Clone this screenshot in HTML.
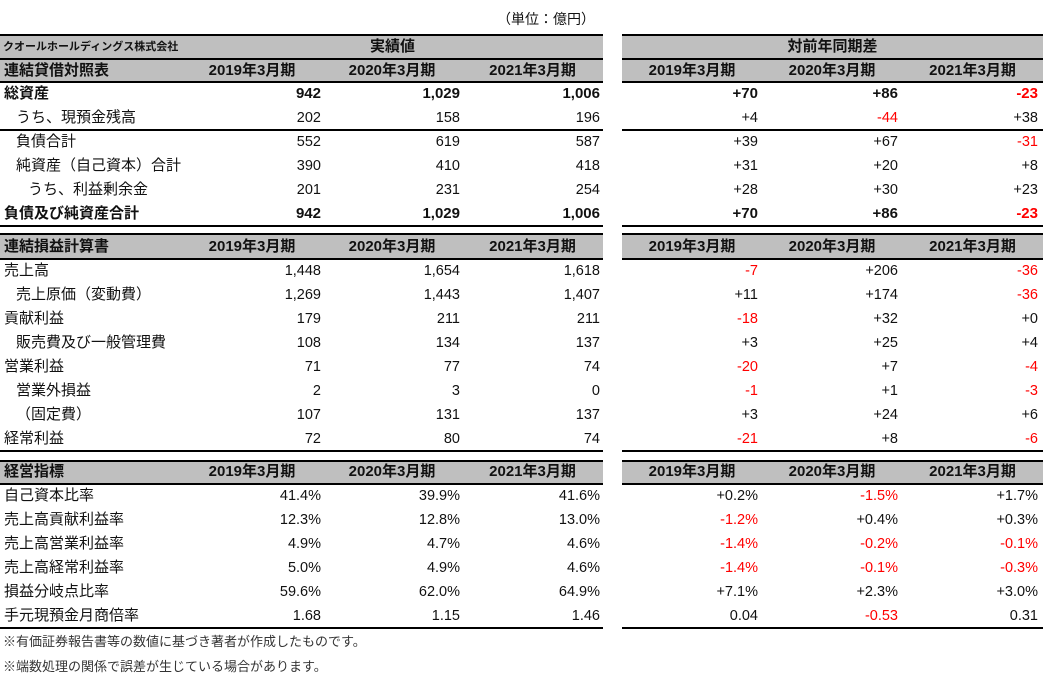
<!DOCTYPE html>
<html lang="ja">
<head>
<meta charset="utf-8">
<style>
  html,body{margin:0;padding:0;background:#fff;}
  body{width:1043px;height:681px;position:relative;overflow:hidden;
       font-family:"Liberation Sans","Noto Sans CJK JP",sans-serif;color:#111;font-size:14.5px;}
  .g{position:absolute;background:#bfbfbf;}
  .ln{position:absolute;height:2px;background:#000;}
  .L,.R{position:absolute;height:24px;line-height:24px;}
  .L{left:0;width:603px;}
  .R{left:622px;width:421px;}
  .L span,.R span{position:absolute;white-space:nowrap;top:0;}
  .L .a{right:282px}.L .b{right:143px}.L .c{right:3px}
  .R .a{right:285px}.R .b{right:145px}.R .c{right:5px}
  .l{left:4px;font-size:15px}.i1{left:16px;font-size:15px}.i2{left:28px;font-size:15px}
  .bd{font-weight:bold;}
  .red{color:#f00;}
  .hd{font-weight:bold;font-size:15px;}
  .L .h1{left:182px;width:140px;text-align:center}
  .L .h2{left:322px;width:140px;text-align:center}
  .L .h3{left:462px;width:141px;text-align:center}
  .R .h1{left:0;width:140px;text-align:center}
  .R .h2{left:140px;width:140px;text-align:center}
  .R .h3{left:280px;width:141px;text-align:center}
  .t{position:absolute;white-space:nowrap;}
</style>
</head>
<body>
<div class="t" style="right:448px;top:9px;font-size:14px;line-height:20px;">（単位：億円）</div>

<!-- gray bands -->
<div class="g" style="left:0;top:34px;width:603px;height:48px;"></div>
<div class="g" style="left:622px;top:34px;width:421px;height:48px;"></div>
<div class="g" style="left:0;top:234px;width:603px;height:25px;"></div>
<div class="g" style="left:622px;top:234px;width:421px;height:25px;"></div>
<div class="g" style="left:0;top:460px;width:603px;height:24px;"></div>
<div class="g" style="left:622px;top:460px;width:421px;height:24px;"></div>

<!-- lines -->
<div class="ln" style="left:0;width:603px;top:34px;"></div>
<div class="ln" style="left:622px;width:421px;top:34px;"></div>
<div class="ln" style="left:0;width:603px;top:58px;"></div>
<div class="ln" style="left:622px;width:421px;top:58px;"></div>
<div class="ln" style="left:0;width:603px;top:81px;"></div>
<div class="ln" style="left:622px;width:421px;top:81px;"></div>
<div class="ln" style="left:0;width:603px;top:129px;"></div>
<div class="ln" style="left:622px;width:421px;top:129px;"></div>
<div class="ln" style="left:0;width:603px;top:225px;"></div>
<div class="ln" style="left:622px;width:421px;top:225px;"></div>
<div class="ln" style="left:0;width:603px;top:233px;"></div>
<div class="ln" style="left:622px;width:421px;top:233px;"></div>
<div class="ln" style="left:0;width:603px;top:258px;"></div>
<div class="ln" style="left:622px;width:421px;top:258px;"></div>
<div class="ln" style="left:0;width:603px;top:450px;"></div>
<div class="ln" style="left:622px;width:421px;top:450px;"></div>
<div class="ln" style="left:0;width:603px;top:460px;"></div>
<div class="ln" style="left:622px;width:421px;top:460px;"></div>
<div class="ln" style="left:0;width:603px;top:483px;"></div>
<div class="ln" style="left:622px;width:421px;top:483px;"></div>
<div class="ln" style="left:0;width:603px;top:627px;"></div>
<div class="ln" style="left:622px;width:421px;top:627px;"></div>

<!-- header row 1 -->
<div class="L" style="top:35px;"><span style="left:3px;font-size:11px;font-weight:bold;">クオールホールディングス株式会社</span><span class="hd" style="left:182px;width:421px;text-align:center;">実績値</span></div>
<div class="R" style="top:35px;"><span class="hd" style="left:0;width:421px;text-align:center;">対前年同期差</span></div>

<!-- header row 2 -->
<div class="L hd" style="top:59px;"><span class="l">連結貸借対照表</span><span class="h1">2019年3月期</span><span class="h2">2020年3月期</span><span class="h3">2021年3月期</span></div>
<div class="R hd" style="top:59px;"><span class="h1">2019年3月期</span><span class="h2">2020年3月期</span><span class="h3">2021年3月期</span></div>

<!-- BS rows -->
<div class="L bd" style="top:82px;font-size:15px;"><span class="l">総資産</span><span class="a">942</span><span class="b">1,029</span><span class="c">1,006</span></div>
<div class="R bd" style="top:82px;font-size:15px;"><span class="a">+70</span><span class="b">+86</span><span class="c red">-23</span></div>

<div class="L" style="top:106px;"><span class="i1">うち、現預金残高</span><span class="a">202</span><span class="b">158</span><span class="c">196</span></div>
<div class="R" style="top:106px;"><span class="a">+4</span><span class="b red">-44</span><span class="c">+38</span></div>

<div class="L" style="top:130px;"><span class="i1">負債合計</span><span class="a">552</span><span class="b">619</span><span class="c">587</span></div>
<div class="R" style="top:130px;"><span class="a">+39</span><span class="b">+67</span><span class="c red">-31</span></div>

<div class="L" style="top:154px;"><span class="i1">純資産（自己資本）合計</span><span class="a">390</span><span class="b">410</span><span class="c">418</span></div>
<div class="R" style="top:154px;"><span class="a">+31</span><span class="b">+20</span><span class="c">+8</span></div>

<div class="L" style="top:178px;"><span class="i2">うち、利益剰余金</span><span class="a">201</span><span class="b">231</span><span class="c">254</span></div>
<div class="R" style="top:178px;"><span class="a">+28</span><span class="b">+30</span><span class="c">+23</span></div>

<div class="L bd" style="top:202px;font-size:15px;"><span class="l">負債及び純資産合計</span><span class="a">942</span><span class="b">1,029</span><span class="c">1,006</span></div>
<div class="R bd" style="top:202px;font-size:15px;"><span class="a">+70</span><span class="b">+86</span><span class="c red">-23</span></div>

<!-- PL header -->
<div class="L hd" style="top:235px;"><span class="l">連結損益計算書</span><span class="h1">2019年3月期</span><span class="h2">2020年3月期</span><span class="h3">2021年3月期</span></div>
<div class="R hd" style="top:235px;"><span class="h1">2019年3月期</span><span class="h2">2020年3月期</span><span class="h3">2021年3月期</span></div>

<!-- PL rows -->
<div class="L" style="top:259px;"><span class="l">売上高</span><span class="a">1,448</span><span class="b">1,654</span><span class="c">1,618</span></div>
<div class="R" style="top:259px;"><span class="a red">-7</span><span class="b">+206</span><span class="c red">-36</span></div>

<div class="L" style="top:283px;"><span class="i1">売上原価（変動費）</span><span class="a">1,269</span><span class="b">1,443</span><span class="c">1,407</span></div>
<div class="R" style="top:283px;"><span class="a">+11</span><span class="b">+174</span><span class="c red">-36</span></div>

<div class="L" style="top:307px;"><span class="l">貢献利益</span><span class="a">179</span><span class="b">211</span><span class="c">211</span></div>
<div class="R" style="top:307px;"><span class="a red">-18</span><span class="b">+32</span><span class="c">+0</span></div>

<div class="L" style="top:331px;"><span class="i1">販売費及び一般管理費</span><span class="a">108</span><span class="b">134</span><span class="c">137</span></div>
<div class="R" style="top:331px;"><span class="a">+3</span><span class="b">+25</span><span class="c">+4</span></div>

<div class="L" style="top:355px;"><span class="l">営業利益</span><span class="a">71</span><span class="b">77</span><span class="c">74</span></div>
<div class="R" style="top:355px;"><span class="a red">-20</span><span class="b">+7</span><span class="c red">-4</span></div>

<div class="L" style="top:379px;"><span class="i1">営業外損益</span><span class="a">2</span><span class="b">3</span><span class="c">0</span></div>
<div class="R" style="top:379px;"><span class="a red">-1</span><span class="b">+1</span><span class="c red">-3</span></div>

<div class="L" style="top:403px;"><span class="i1">（固定費）</span><span class="a">107</span><span class="b">131</span><span class="c">137</span></div>
<div class="R" style="top:403px;"><span class="a">+3</span><span class="b">+24</span><span class="c">+6</span></div>

<div class="L" style="top:427px;"><span class="l">経常利益</span><span class="a">72</span><span class="b">80</span><span class="c">74</span></div>
<div class="R" style="top:427px;"><span class="a red">-21</span><span class="b">+8</span><span class="c red">-6</span></div>

<!-- Indicators header -->
<div class="L hd" style="top:460px;"><span class="l">経営指標</span><span class="h1">2019年3月期</span><span class="h2">2020年3月期</span><span class="h3">2021年3月期</span></div>
<div class="R hd" style="top:460px;"><span class="h1">2019年3月期</span><span class="h2">2020年3月期</span><span class="h3">2021年3月期</span></div>

<!-- Indicator rows -->
<div class="L" style="top:484px;"><span class="l">自己資本比率</span><span class="a">41.4%</span><span class="b">39.9%</span><span class="c">41.6%</span></div>
<div class="R" style="top:484px;"><span class="a">+0.2%</span><span class="b red">-1.5%</span><span class="c">+1.7%</span></div>

<div class="L" style="top:508px;"><span class="l">売上高貢献利益率</span><span class="a">12.3%</span><span class="b">12.8%</span><span class="c">13.0%</span></div>
<div class="R" style="top:508px;"><span class="a red">-1.2%</span><span class="b">+0.4%</span><span class="c">+0.3%</span></div>

<div class="L" style="top:532px;"><span class="l">売上高営業利益率</span><span class="a">4.9%</span><span class="b">4.7%</span><span class="c">4.6%</span></div>
<div class="R" style="top:532px;"><span class="a red">-1.4%</span><span class="b red">-0.2%</span><span class="c red">-0.1%</span></div>

<div class="L" style="top:556px;"><span class="l">売上高経常利益率</span><span class="a">5.0%</span><span class="b">4.9%</span><span class="c">4.6%</span></div>
<div class="R" style="top:556px;"><span class="a red">-1.4%</span><span class="b red">-0.1%</span><span class="c red">-0.3%</span></div>

<div class="L" style="top:580px;"><span class="l">損益分岐点比率</span><span class="a">59.6%</span><span class="b">62.0%</span><span class="c">64.9%</span></div>
<div class="R" style="top:580px;"><span class="a">+7.1%</span><span class="b">+2.3%</span><span class="c">+3.0%</span></div>

<div class="L" style="top:604px;"><span class="l">手元現預金月商倍率</span><span class="a">1.68</span><span class="b">1.15</span><span class="c">1.46</span></div>
<div class="R" style="top:604px;"><span class="a">0.04</span><span class="b red">-0.53</span><span class="c">0.31</span></div>

<!-- footnotes -->
<div class="t" style="left:3px;top:632px;font-size:13px;line-height:20px;color:#333;">※有価証券報告書等の数値に基づき著者が作成したものです。</div>
<div class="t" style="left:3px;top:657px;font-size:13px;line-height:20px;color:#333;">※端数処理の関係で誤差が生じている場合があります。</div>
</body>
</html>
